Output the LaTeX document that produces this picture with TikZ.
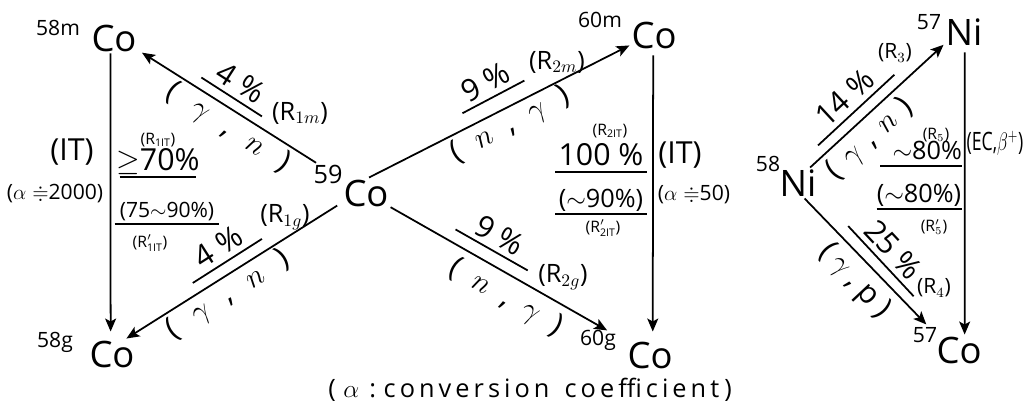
\documentclass[tikz,border=0pt]{standalone}
\usepackage{amssymb}
\usepackage{graphicx}
\usepackage{fontspec}
\setmainfont{Open Sans}
\usetikzlibrary{arrows.meta}
% yield with its bar underneath, reaction spread along an arrow
\newcommand{\ybar}[3][c]{\makebox[0pt][l]{\rule[-4pt]{#2}{1pt}}\makebox[#2][#1]{#3}}
\newcommand{\reac}[3]{\makebox[#1][s]{(\hfill$#2$\hfill,\hfill#3\hfill)}}

\begin{document}
\begin{tikzpicture}[x=0.02cm,y=-0.02cm,
    iso/.style={font=\huge,inner sep=1pt},
    mass/.style={font=\large,inner sep=0pt},
    arr/.style={-{Stealth[length=2.6mm,width=2.2mm,inset=0.6mm]},line width=1pt},
    pct/.style={font=\LARGE,inner sep=0pt,anchor=south},
    reac/.style={font=\LARGE,inner sep=0pt},
    rlab/.style={font=\Large,inner sep=0pt},
    note/.style={font=\small,inner sep=0pt}]
  \useasboundingbox (0,0) rectangle (1027,412);
  % nuclides
  \node[iso] (co58m) at (114,38)  {Co};
  \node[iso] (co58g) at (112,354) {Co};
  \node[iso] (co59)  at (366,193) {Co};
  \node[iso] (co60m) at (654,35)  {Co};
  \node[iso] (co60g) at (650,355) {Co};
  \node[iso] (ni57)  at (964,32)  {Ni};
  \node[iso] (ni58)  at (798,183) {Ni};
  \node[iso] (co57)  at (959,350) {Co};
  \node[mass] (m58m) at (58,28)   {58m};
  \node[mass] (m58g) at (55,342)  {58g};
  \node[mass,font=\Large] (m59) at (328,174) {59};
  \node[mass] (m60m) at (600,20)  {60m};
  \node[mass] (m60g) at (598,340) {60g};
  \node[mass] (m57n) at (929,22)  {57};
  \node[mass] (m58n) at (768,164) {58};
  \node[mass] (m57c) at (925,335) {57};
  % transitions
  \draw[arr,shorten <=0.6cm,shorten >=0.08cm] (co59.150) -- (co58m.-27);
  \draw[arr,shorten <=0.1cm] (co59.202) -- (co58g.47);
  \draw[arr] (co59.79) -- (co60m.203);
  \draw[arr,shorten >=0.42cm] (co59.-30) -- (co60g.150);
  \draw[arr,shorten >=0.14cm] (co58m.-103) -- (co58g.95);
  \draw[arr,shorten <=0.1cm,shorten >=0.16cm] (co60m.-93) -- (co60g.80);
  \draw[arr] (ni58.52) -- (ni57.212);
  \draw[arr,shorten >=0.28cm] (ni58.-67) -- (co57.146);
  \draw[arr,shorten <=0.1cm] (ni57.-87) -- (co57.70);
  % 59Co -> 58Co
  \node[pct,rotate=-32.7] (y1m) at (231,98) {\ybar{1.44cm}{4 \%}};
  \node[reac,rotate=-32.7] (x1m) at (228,128) {\reac{2.8cm}{\gamma}{$n$}};
  \node[rlab] (r1m) at (300,113) {(R$_{1m}$)};
  \node[pct,rotate=32.5] (y1g) at (228,262) {\ybar{1.64cm}{4 \%}};
  \node[reac,rotate=32.5] (x1g) at (228,295) {\reac{2.8cm}{\gamma}{$n$}};
  \node[rlab] (r1g) at (285,217) {(R$_{1g}$)};
  % 59Co -> 60Co
  \node[pct,rotate=27.8] (y2m) at (494,98) {\ybar{1.4cm}{9 \%}};
  \node[reac,rotate=27.8] (x2m) at (510,125) {\reac{2.6cm}{n}{$\gamma$}};
  \node[rlab] (r2m) at (557,62) {(R$_{2m}$)};
  \node[pct,rotate=-29.6] (y2g) at (491,251) {\ybar{1.66cm}{9 \%}};
  \node[reac,rotate=-29.6] (x2g) at (506,298) {\reac{2.5cm}{n}{$\gamma$}};
  \node[rlab] (r2g) at (563,277) {(R$_{2g}$)};
  % 58Ni -> 57Ni, 57Co
  \node[pct,rotate=42.8] (y3) at (857,111) {\ybar{2.08cm}{14 \%}};
  \node[reac,rotate=42.8] (x3) at (870,139) {\reac{2.1cm}{\gamma}{$n$}};
  \node[rlab,font=\large] (r3) at (895,53) {(R$_3$)};
  \node[pct,rotate=-47] (y4) at (880,262) {\ybar{1.92cm}{25 \%}};
  \node[reac,rotate=-47] (x4) at (854,281) {\reac{1.8cm}{\gamma}{p}};
  \node[rlab,font=\large] (r4) at (934,288) {(R$_4$)};
  % isomeric transitions
  \node[rlab,font=\LARGE] (it1) at (72,152) {(IT)};
  \node[rlab,font=\large] (al1) at (55,194) {($\alpha\doteqdot$2000)};
  \node[note] (r1it) at (158,140) {(R$_{\mathrm{1IT}}$)};
  \node[pct] (p1it) at (158,178) {\ybar{1.54cm}{$\geq$70\%}};
  \node[pct,font=\large] (p1itb) at (167,225) {\ybar{2.1cm}{(75$\sim$90\%)}};
  \node[note] (r1itb) at (150,243) {(R$'_{\mathrm{1IT}}$)};
  \node[note] (r2it) at (610,131) {(R$_{\mathrm{2IT}}$)};
  \node[pct] (p2it) at (601,173) {\ybar{1.84cm}{100 \%}};
  \node[pct,font=\Large] (p2itb) at (601,215) {\ybar{1.84cm}{($\sim$90\%)}};
  \node[note] (r2itb) at (603,228) {(R$'_{\mathrm{2IT}}$)};
  \node[rlab,font=\LARGE] (it2) at (680,155) {(IT)};
  \node[rlab,font=\large] (al2) at (694,195) {($\alpha\doteqdot$50)};
  % 57Ni decay
  \node[note] (r5) at (936,135) {(R$_5$)};
  \node[pct,font=\Large] (p5) at (921,167) {\ybar[r]{1.64cm}{$\sim$80\%}};
  \node[pct,font=\Large] (p5b) at (919,210) {\ybar{1.7cm}{($\sim$80\%)}};
  \node[note] (r5b) at (934,227) {(R$'_5$)};
  \node[rlab] (ec) at (995,143) {\scalebox{0.7}[1]{(EC,$\beta^{+}$)}};
  \node[font=\Large\addfontfeature{LetterSpace=16}] (cap) at (530,390)
    {(\hspace{0.3em}$\alpha$\hspace{0.4em}:\hspace{0.3em}conversion\hspace{0.6em}coefficient\hspace{0.2em})};
\end{tikzpicture}
\end{document}
